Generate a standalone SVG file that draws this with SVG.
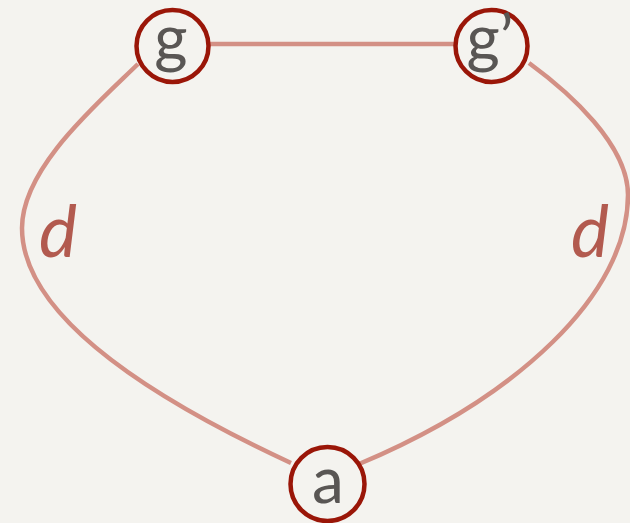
<svg xmlns="http://www.w3.org/2000/svg" width="630" height="523" viewBox="0 0 630 523">
<style>
.edge{fill:none;stroke:#d39085;stroke-width:4.5;stroke-linecap:butt}
.node circle{fill:none;stroke:#9a1608;stroke-width:4.5}
.node text{font-family:Lato,"Open Sans",sans-serif;font-size:64px;fill:#595654;text-anchor:middle}
.lbl{font-family:Lato,"Open Sans",sans-serif;font-style:italic;font-size:72px;fill:#b25a4f;text-anchor:middle}
</style>
<rect width="630" height="523" fill="#f4f3ef"/>
<g id="connectors">
<path class="edge" d="M210,44 L455,44"/>
<path class="edge" d="M138,64 C97,104 22,168 22,228 C22,318 155,400 291,463"/>
<path class="edge" d="M529,63 C570,93 628,145 628,195 C628,295 516,398 359,464"/>
</g>
<g id="label-left"><text class="lbl" x="58" y="257">d</text></g>
<g id="label-right"><text class="lbl" x="590" y="257">d</text></g>
<g id="node-g" class="node"><circle cx="172.5" cy="46" r="36"/><text x="171" y="61">g</text></g>
<g id="node-gp" class="node"><circle cx="491.5" cy="46" r="36"/><text x="490" y="61">g’</text></g>
<g id="node-a" class="node"><circle cx="327.5" cy="484" r="37"/><text x="328" y="503">a</text></g>
</svg>
